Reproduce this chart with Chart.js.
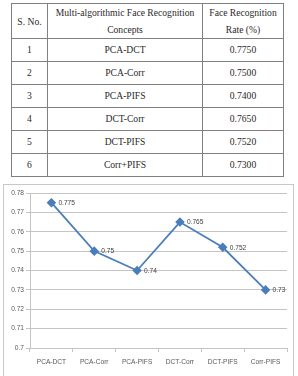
<!DOCTYPE html>
<html>
<head>
<meta charset="utf-8">
<script src="https://cdn.jsdelivr.net/npm/chart.js@4/dist/chart.umd.min.js"></script>
<style>
    body { margin: 0; width: 298px; height: 376px; background: #fff; position: relative; overflow: hidden; }
    table.results {
        position: absolute; left: 11px; top: 3px; width: 272px;
        border-collapse: collapse; table-layout: fixed;
        font-family: "Liberation Serif", "Times New Roman", serif; font-size: 9.6px; color: #2a2a2a;
    }
    table.results td, table.results th {
        border: 1px solid #808080; text-align: center; padding: 0; font-weight: normal;
    }
    table.results th { height: 34px; line-height: 17px; }
    table.results td { height: 22px; line-height: 10px; }
    #chartBox {
        position: absolute; left: 3px; top: 184px; width: 291px; height: 200px;
        border: 1px solid #c8c8c8; box-sizing: border-box;
    }
    #chartWrap { position: absolute; left: 4px; top: 185px; width: 290px; height: 191px; }
</style>
</head>
<body>
<table class="results">
    <colgroup><col style="width:36px"><col style="width:155px"><col style="width:81px"></colgroup>
    <thead>
        <tr><th>S. No.</th><th>Multi-algorithmic Face Recognition<br>Concepts</th><th>Face Recognition<br>Rate (%)</th></tr>
    </thead>
    <tbody id="tableBody"></tbody>
</table>
<div id="chartBox"></div>
<div id="chartWrap"><canvas id="rateChart" width="290" height="191"></canvas></div>
<script>
// Table data
const serialNumbers = [1, 2, 3, 4, 5, 6];
const concepts = ['PCA-DCT', 'PCA-Corr', 'PCA-PIFS', 'DCT-Corr', 'DCT-PIFS', 'Corr+PIFS'];
const tableRates = ['0.7750', '0.7500', '0.7400', '0.7650', '0.7520', '0.7300'];

// Chart data
const chartLabels = ['PCA-DCT', 'PCA-Corr', 'PCA-PIFS', 'DCT-Corr', 'DCT-PIFS', 'Corr-PIFS'];
const recognitionRates = [0.775, 0.75, 0.74, 0.765, 0.752, 0.73];
const yMin = 0.7;
const yMax = 0.78;
const yStep = 0.01;

document.getElementById('tableBody').innerHTML = serialNumbers.map((n, i) => `
    <tr><td>${n}</td><td>${concepts[i]}</td><td>${tableRates[i]}</td></tr>
`).join('');

const labelFont = { family: '"Liberation Sans", Arial, sans-serif', size: 6.6 };
const gridColor = '#c4c4c4';

// draws the value next to each point, like the Excel data labels
const pointLabels = {
    id: 'pointLabels',
    afterDatasetsDraw(chart) {
        const ctx = chart.ctx;
        const meta = chart.getDatasetMeta(0);
        ctx.save();
        ctx.font = `${labelFont.size}px ${labelFont.family}`;
        ctx.fillStyle = '#404040';
        ctx.textAlign = 'left';
        ctx.textBaseline = 'middle';
        meta.data.forEach((pt, i) => {
            ctx.fillText(String(recognitionRates[i]), pt.x + 7, pt.y + 0.5);
        });
        ctx.restore();
    }
};

new Chart(document.getElementById('rateChart').getContext('2d'), {
    type: 'line',
    data: {
        labels: chartLabels,
        datasets: [{
            data: recognitionRates,
            borderColor: '#4a7ebb',
            backgroundColor: '#4a7ebb',
            borderWidth: 1.8,
            pointStyle: 'rectRot',
            pointRadius: 3.5,
            tension: 0
        }]
    },
    options: {
        responsive: false,
        animation: false,
        devicePixelRatio: 1,
        layout: { padding: { top: 8, right: 7, bottom: 0, left: 0 } },
        plugins: { legend: { display: false }, tooltip: { enabled: false } },
        scales: {
            x: {
                offset: true,
                grid: { offset: true, drawOnChartArea: false, drawTicks: true, tickLength: 4, color: gridColor },
                border: { color: gridColor },
                ticks: { font: labelFont, color: '#595959', padding: 6, maxRotation: 0, autoSkip: false },
                afterFit: scale => { scale.height = 28; }
            },
            y: {
                min: yMin,
                max: yMax,
                grid: { color: gridColor, tickLength: 4 },
                border: { color: gridColor },
                ticks: {
                    stepSize: yStep,
                    font: labelFont,
                    color: '#595959',
                    padding: 2,
                    callback: v => String(+v.toFixed(2))
                },
                afterFit: scale => { scale.width = 26; }
            }
        }
    },
    plugins: [pointLabels]
});
</script>
</body>
</html>
